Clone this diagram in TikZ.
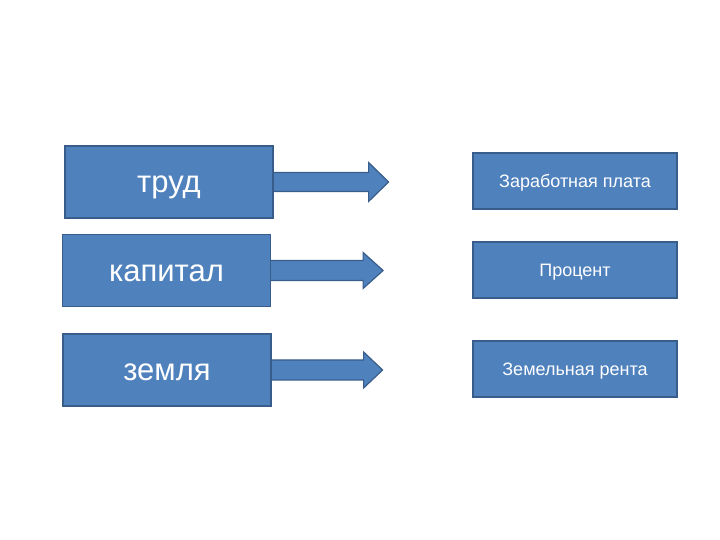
\documentclass[tikz,border=0pt]{standalone}
\usepackage{fontspec}
\setmainfont{Liberation Sans}
\usetikzlibrary{backgrounds}
\definecolor{boxblue}{HTML}{4F81BD}
\definecolor{edgeblue}{HTML}{385D8A}

\begin{document}
\begin{tikzpicture}[x=1pt, y=1pt,
    bigbox/.style = {draw=edgeblue, fill=boxblue, line width=1.2pt, text=white, minimum width=208pt, minimum height=72pt, inner sep=0pt, text height=28pt, text depth=6.6pt, font=\fontsize{31}{37}\selectfont},
    smallbox/.style = {draw=edgeblue, fill=boxblue, line width=1.2pt, text=white, minimum width=204pt, minimum height=56pt, inner sep=0pt, text height=16.3pt, text depth=3.8pt, font=\fontsize{18}{22}\selectfont},
    blockarrow/.style = {draw=edgeblue, fill=boxblue, line width=1.2pt, line join=miter}]
    \useasboundingbox (0,0) rectangle (720,540);
        \node[bigbox] (trud) at (169,358) {труд};
        \node[bigbox] (kapital) at (166.5,269.5) {капитал};
        \node[bigbox] (zemlya) at (167,170) {земля};
        \node[smallbox] (zarplata) at (575,359) {Заработная плата};
        \node[smallbox] (procent) at (575,270) {Процент};
        \node[smallbox] (renta) at (575,171) {Земельная рента};
        \begin{pgfonlayer}{background}
        \filldraw[blockarrow] ([shift={(-6,9.5)}]trud.east) -- ++(101,0) -- ++(0,10) -- ++(20,-19.5) -- ++(-20,-19.5) -- ++(0,10) -- ++(-101,0) -- cycle;
        \filldraw[blockarrow] ([shift={(-6,10)}]kapital.east) -- ++(98,0) -- ++(0,8) -- ++(20,-18) -- ++(-20,-18) -- ++(0,8) -- ++(-98,0) -- cycle;
        \filldraw[blockarrow] ([shift={(-6,10)}]zemlya.east) -- ++(98,0) -- ++(0,8) -- ++(19,-18) -- ++(-19,-18) -- ++(0,8) -- ++(-98,0) -- cycle;
        \end{pgfonlayer}
    \end{tikzpicture}
\end{document}
